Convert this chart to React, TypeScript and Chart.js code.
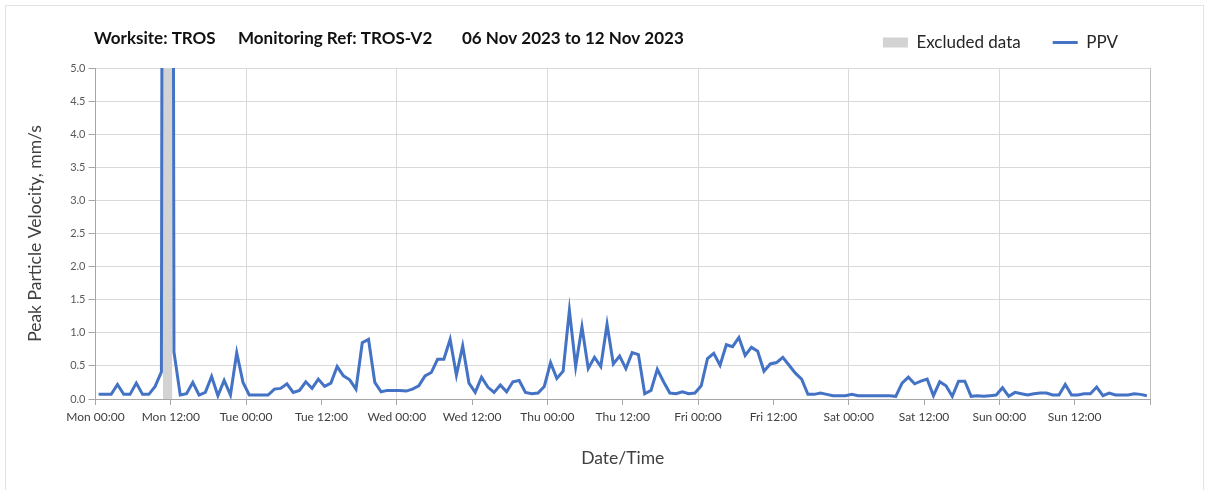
import React, { useEffect, useRef } from 'react';
import { Chart, registerables } from 'chart.js';

Chart.register(...registerables);

// Hourly PPV readings (mm/s), one array per day, Mon 06 Nov – Sun 12 Nov 2023
const monValues = [0.07, 0.07, 0.07, 0.22, 0.07, 0.07, 0.24, 0.07, 0.07, 0.19, 0.41, 60, 0.71, 0.06, 0.08, 0.25, 0.06, 0.1, 0.34, 0.05, 0.28, 0.06, 0.7, 0.25];
const tueValues = [0.06, 0.06, 0.06, 0.06, 0.15, 0.16, 0.23, 0.1, 0.13, 0.26, 0.16, 0.3, 0.19, 0.24, 0.49, 0.35, 0.29, 0.15, 0.85, 0.9, 0.25, 0.11, 0.13, 0.13];
const wedValues = [0.13, 0.12, 0.15, 0.2, 0.35, 0.4, 0.6, 0.6, 0.9, 0.36, 0.8, 0.24, 0.1, 0.33, 0.18, 0.1, 0.21, 0.11, 0.26, 0.28, 0.1, 0.08, 0.09, 0.19];
const thuValues = [0.55, 0.31, 0.42, 1.34, 0.49, 1.09, 0.46, 0.63, 0.49, 1.13, 0.53, 0.65, 0.46, 0.7, 0.67, 0.08, 0.13, 0.45, 0.26, 0.09, 0.08, 0.11, 0.08, 0.09];
const friValues = [0.2, 0.61, 0.69, 0.51, 0.82, 0.79, 0.93, 0.66, 0.78, 0.72, 0.42, 0.53, 0.55, 0.63, 0.51, 0.39, 0.3, 0.07, 0.07, 0.09, 0.07, 0.05, 0.05, 0.05];
const satValues = [0.07, 0.05, 0.05, 0.05, 0.05, 0.05, 0.05, 0.04, 0.24, 0.33, 0.23, 0.27, 0.3, 0.05, 0.26, 0.2, 0.04, 0.27, 0.27, 0.04, 0.05, 0.04, 0.05, 0.06];
const sunValues = [0.17, 0.04, 0.1, 0.08, 0.06, 0.08, 0.09, 0.09, 0.06, 0.06, 0.22, 0.06, 0.06, 0.08, 0.08, 0.18, 0.05, 0.09, 0.06, 0.06, 0.06, 0.08, 0.07, 0.05];

const readingOffsetHours = 0.5;
const excludedRange = [10.75, 12.25];

const xTickLabels = [
  'Mon 00:00', 'Mon 12:00', 'Tue 00:00', 'Tue 12:00', 'Wed 00:00', 'Wed 12:00', 'Thu 00:00',
  'Thu 12:00', 'Fri 00:00', 'Fri 12:00', 'Sat 00:00', 'Sat 12:00', 'Sun 00:00', 'Sun 12:00',
];
const xMaxHours = 168;
const xStepHours = 12;
const yMax = 5;
const yStep = 0.5;

const titleParts = ['Worksite: TROS', 'Monitoring Ref: TROS-V2', '06 Nov 2023 to 12 Nov 2023'];
const seriesLabels = ['Excluded data', 'PPV'];
const yAxisTitle = 'Peak Particle Velocity, mm/s';
const xAxisTitle = 'Date/Time';

const FONT = 'Lato, "Open Sans", sans-serif';
const PPV_COLOR = '#4472c4';
const EXCL_COLOR = '#d3d3d3';

const titlePlugin = {
  id: 'headerTitle',
  afterLayout(chart: any) {
    // lift the legend row so that it shares the title's line
    const lg = chart.legend;
    if (lg) {
      lg.top -= 7;
      lg.bottom -= 7;
    }
  },
  afterDraw(chart: any) {
    const ctx = chart.ctx;
    const starts = [94, 238, 462];
    ctx.save();
    ctx.font = `bold 17px ${FONT}`;
    ctx.fillStyle = '#111111';
    ctx.textBaseline = 'middle';
    ctx.textAlign = 'left';
    titleParts.forEach((t, i) => ctx.fillText(t, starts[i], 39));
    ctx.restore();
  },
};

export default function App() {
  const canvasRef = useRef<HTMLCanvasElement | null>(null);

  useEffect(() => {
    if (!canvasRef.current) return;
    const ppvValues = [monValues, tueValues, wedValues, thuValues, friValues, satValues, sunValues].flat();
    const ppvPoints = ppvValues.map((v, i) => ({ x: i + readingOffsetHours, y: v }));
    const excludedPoints = excludedRange.map((x) => ({ x, y: yMax }));

    const chart = new Chart(canvasRef.current, {
      type: 'line',
      data: {
        datasets: [
          {
            label: seriesLabels[0],
            data: excludedPoints,
            fill: 'origin',
            backgroundColor: EXCL_COLOR,
            borderColor: EXCL_COLOR,
            borderWidth: 0,
            pointRadius: 0,
            pointBorderWidth: 0,
            pointStyle: 'rect',
          },
          {
            label: seriesLabels[1],
            data: ppvPoints,
            fill: false,
            borderColor: PPV_COLOR,
            backgroundColor: PPV_COLOR,
            borderWidth: 3,
            pointRadius: 0,
            pointBorderWidth: 3,
            pointStyle: 'line',
            tension: 0,
          },
        ],
      },
      options: {
        animation: false,
        responsive: false,
        maintainAspectRatio: false,
        layout: { padding: { top: 0, right: 58, left: 0, bottom: 0 } },
        plugins: {
          filler: { drawTime: 'beforeDatasetsDraw' },
          tooltip: { enabled: false },
          title: { display: false },
          legend: {
            position: 'top',
            align: 'end',
            labels: {
              usePointStyle: true,
              pointStyleWidth: 25,
              boxHeight: 10,
              padding: 32,
              color: '#262626',
              font: { size: 17, family: FONT },
            },
          },
        },
        scales: {
          x: {
            type: 'linear',
            min: 0,
            max: xMaxHours,
            afterFit: (scale: any) => {
              scale.height = 91;
            },
            ticks: {
              stepSize: xStepHours,
              autoSkip: false,
              maxRotation: 0,
              minRotation: 0,
              padding: 5,
              color: '#404040',
              font: { size: 12, family: FONT },
              callback: (_v: any, index: number) => xTickLabels[index] ?? '',
            },
            grid: {
              color: (c: any) => {
                const v = c.tick ? c.tick.value : 0;
                if (v === xMaxHours) return '#bfbfbf';
                return v % 24 === 0 ? '#d9d9d9' : 'rgba(0,0,0,0)';
              },
              tickColor: '#a6a6a6',
              tickLength: 6,
              lineWidth: 1,
            },
            border: { color: '#a6a6a6', width: 1 },
            title: {
              display: true,
              text: xAxisTitle,
              color: '#404040',
              font: { size: 17.5, family: FONT },
              padding: { top: 0, bottom: 21.5 },
            },
          },
          y: {
            type: 'linear',
            min: 0,
            max: yMax,
            afterFit: (scale: any) => {
              scale.width = 95.5;
              scale.paddingTop = 68;
            },
            ticks: {
              stepSize: yStep,
              padding: 3,
              color: '#595959',
              font: { size: 11, family: FONT },
              callback: (v: any) => Number(v).toFixed(1),
            },
            grid: {
              color: '#d9d9d9',
              tickColor: '#a6a6a6',
              tickLength: 7,
              lineWidth: 1,
            },
            border: { color: '#a6a6a6', width: 1 },
            title: {
              display: true,
              text: yAxisTitle,
              color: '#404040',
              font: { size: 17.5, family: FONT },
              padding: { top: 24.5, bottom: 0 },
            },
          },
        },
      },
      plugins: [titlePlugin],
    });

    return () => chart.destroy();
  }, []);

  return (
    <div style={{ position: 'absolute', left: 0, top: 0, width: 1208, height: 490, background: '#ffffff' }}>
      <canvas ref={canvasRef} width={1208} height={490} style={{ display: 'block', width: 1208, height: 490 }} />
      <div
        style={{
          position: 'absolute',
          left: 5,
          top: 5,
          width: 1197,
          height: 484,
          border: '1px solid #e3e3e3',
          pointerEvents: 'none',
        }}
      />
    </div>
  );
}
